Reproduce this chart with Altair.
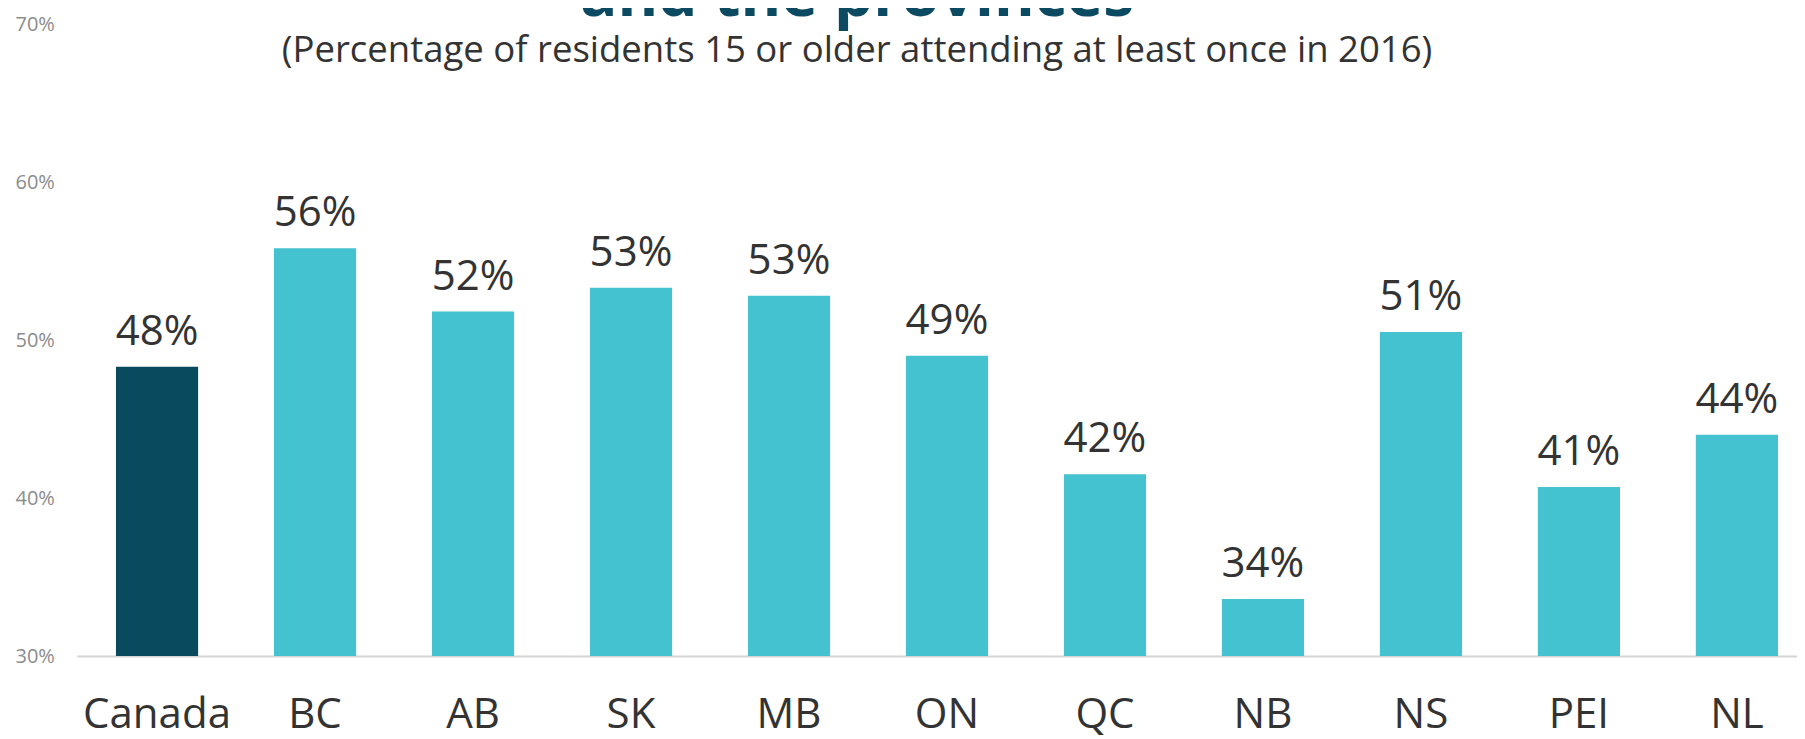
import altair as alt
import pandas as pd

regions = ["Canada", "BC", "AB", "SK", "MB", "ON", "QC", "NB", "NS", "PEI", "NL"]
values = [48.3, 55.8, 51.8, 53.3, 52.8, 49.0, 41.5, 33.6, 50.5, 40.7, 44.0]
labels = ["48%", "56%", "52%", "53%", "53%", "49%", "42%", "34%", "51%", "41%", "44%"]
groups = ["Canada"] + ["Province"] * 10
y_ticks = [30, 40, 50, 60, 70]

df = pd.DataFrame({"region": regions, "value": values, "label": labels, "group": groups})

FONT = "Open Sans"

x_enc = alt.X(
    "region:N",
    sort=regions,
    title=None,
    scale=alt.Scale(paddingInner=0.48, paddingOuter=0.1835, align=0.672),
    axis=alt.Axis(
        labelAngle=0,
        labelFontSize=42,
        labelFont=FONT,
        labelColor="#333333",
        labelPadding=38,
        ticks=False,
        tickSize=0,
        domainColor="#d4d4d4",
        domainWidth=2,
        grid=False,
    ),
)
y_scale = alt.Scale(domain=[30, 70], zero=False, nice=False)

bars = alt.Chart(df).mark_bar().encode(
    x=x_enc,
    y=alt.Y(
        "value:Q",
        scale=y_scale,
        title=None,
        axis=alt.Axis(
            values=y_ticks,
            labelExpr="datum.value + '%'",
            labelAlign="left",
            labelBaseline="middle",
            labelPadding=62,
            labelFontSize=20,
            labelFont=FONT,
            labelColor="#8c8c8c",
            ticks=False,
            tickSize=0,
            domain=False,
            grid=False,
        ),
    ),
    y2=alt.datum(30),
    color=alt.Color(
        "group:N",
        scale=alt.Scale(domain=["Canada", "Province"], range=["#0a4a5e", "#45c2cf"]),
        legend=None,
    ),
)

text = alt.Chart(df).mark_text(
    baseline="alphabetic", dy=-22, fontSize=42, font=FONT, color="#333333"
).encode(
    x=alt.X("region:N", sort=regions),
    y=alt.Y("value:Q", scale=y_scale),
    text="label:N",
)

chart = (
    alt.layer(bars, text)
    .properties(
        width=1720,
        height=632,
        background="white",
        autosize=alt.AutoSizeParams(type="none"),
        padding={"left": 69, "top": 16, "right": 0, "bottom": 83},
        title=alt.Title(
            text="and the provinces",
            subtitle="(Percentage of residents 15 or older attending at least once in 2016)",
            anchor="middle",
            frame="group",
            dx=-80,
            dy=56,
            font=FONT,
            fontSize=62,
            fontWeight="bold",
            color="#0b4a60",
            subtitleFont=FONT,
            subtitleFontSize=36.5,
            subtitleColor="#333333",
            subtitlePadding=4,
            offset=0,
        ),
    )
    .configure_view(strokeWidth=0, stroke="transparent")
)

chart.save("out.html", embed_options={"renderer": "svg", "actions": False})
